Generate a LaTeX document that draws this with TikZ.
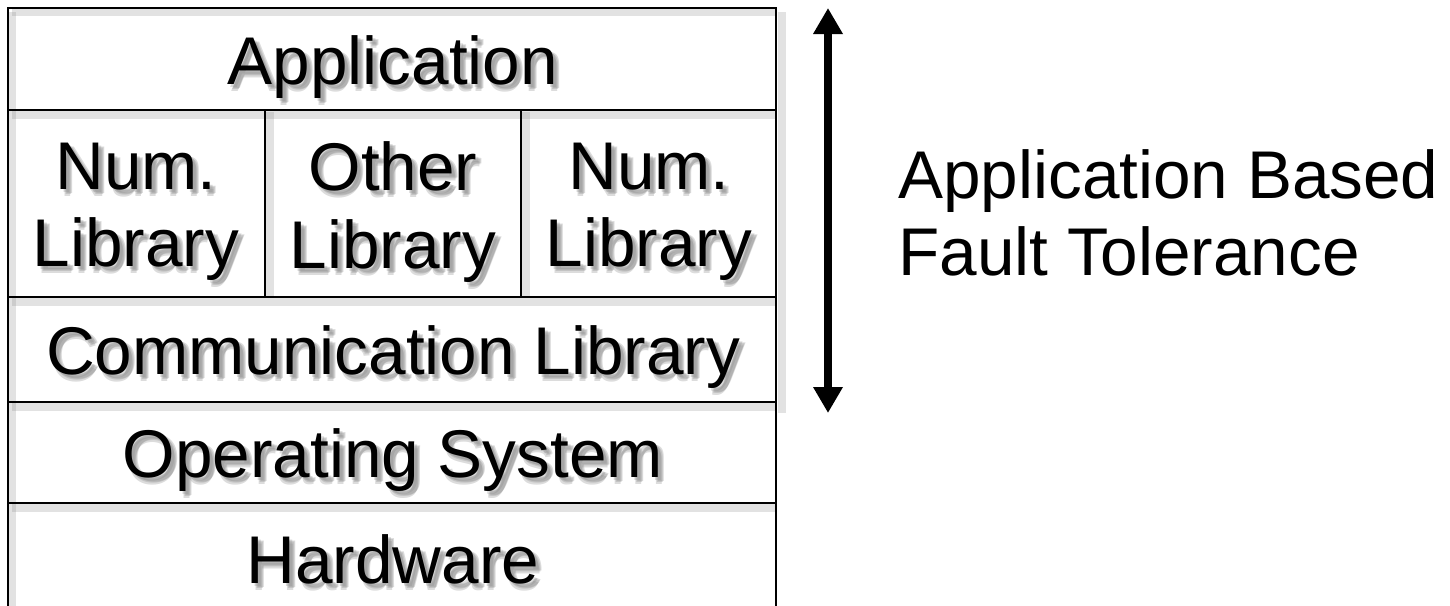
\documentclass[tikz,border=0pt]{standalone}
\usepackage{fontspec}
\setmainfont{Liberation Sans}
\usetikzlibrary{arrows.meta, positioning, calc}
\definecolor{cshade}{HTML}{8A8A8A}
\tikzset{
  every picture/.style={x=0.025cm, y=-0.025cm},
  layer/.style={font=\fontsize{48}{55}\selectfont, align=center, inner sep=0pt},
  shade/.style={layer, text=cshade, opacity=0.3},
  rule/.style={draw=black, line width=2pt},
  ruleshade/.style={draw=cshade, line width=5pt, opacity=0.25},
  arrow/.style={{Triangle[width=0.7cm, length=0.65cm]}-{Triangle[width=0.7cm, length=0.65cm]}, line width=5pt},
}
% label with a soft drop shadow
\newcommand{\shlabel}[4][layer]{%
  \foreach \dx/\dy [count=\k] in {3/3, 5/5, 4/7, 6/4} {
    \node[shade, #1] (#2s\k) at ($(#3)+(\dx,\dy)$) {#4};
  }
  \node[#1] (#2) at (#3) {#4};
}
\begin{document}
\begin{tikzpicture}
  \useasboundingbox (0,0) rectangle (1450,605);
  % shadows of the stack lines
  \foreach \y in {110, 297, 402, 503} {
    \draw[ruleshade] (12,\y+5) -- (776,\y+5);
  }
  \draw[ruleshade] (12,12) -- (776,12);
  \draw[ruleshade] (12,12) -- (12,610);
  \foreach \x in {265, 521} { \draw[ruleshade] (\x+5,112) -- (\x+5,297); }
  \draw[ruleshade] (782,12) -- (782,413);
  % stack frame
  \draw[rule] (8,620) -- (8,8) -- (776,8) -- (776,620);
  \foreach \y in {110, 297, 402, 503} {
    \draw[rule] (8,\y) -- (776,\y);
  }
  \foreach \x in {265, 521} { \draw[rule] (\x,110) -- (\x,297); }
  % layer labels
  \shlabel{app}{393,67}{Application}
  \shlabel{numa}{136,212}{Num.\\Library}
  \shlabel{other}{393,212}{Other\\Library}
  \shlabel{numb}{649,212}{Num.\\Library}
  \shlabel{comm}{393,357}{Communication Library}
  \shlabel{os}{393,460}{Operating System}
  \shlabel{hw}{393,559}{Hardware}
  % extent of application based fault tolerance
  \coordinate (ftop) at (828,8);
  \coordinate (fbot) at (828,413);
  \draw[arrow] (ftop) -- (fbot);
  \node[layer, align=left, anchor=west] (abft) at (898,213) {Application Based\\Fault Tolerance};
\end{tikzpicture}
\end{document}
